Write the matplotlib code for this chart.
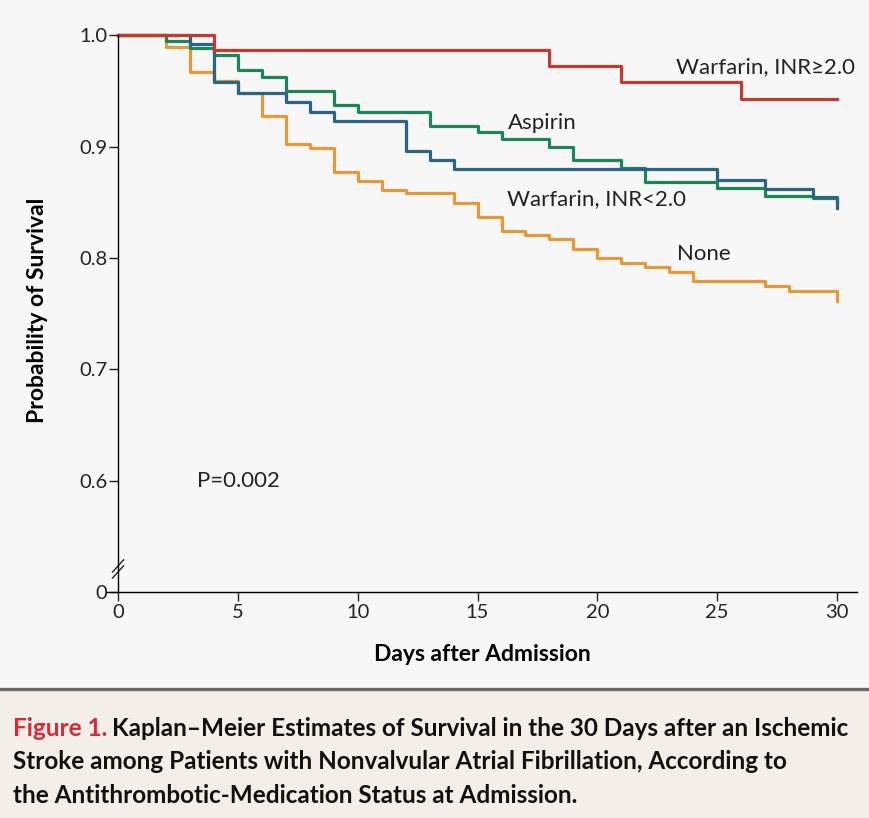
import matplotlib.pyplot as plt
from matplotlib.patches import Rectangle
from matplotlib.lines import Line2D

# --- данные ---
days_inr_high = [0, 4, 18, 21, 26, 30]
surv_inr_high = [1.0, 0.9865, 0.972, 0.9576, 0.9426, 0.9426]

days_aspirin = [0, 2, 3, 4, 5, 6, 7, 9, 10, 13, 15, 16, 18, 19, 21, 22, 25, 27, 29, 30]
surv_aspirin = [1.0, 0.9946, 0.988, 0.982, 0.9686, 0.9626, 0.950, 0.937, 0.931, 0.918,
                0.913, 0.907, 0.900, 0.888, 0.8804, 0.8684, 0.8625, 0.8556, 0.8535, 0.8500]

days_inr_low = [0, 3, 4, 5, 7, 8, 9, 12, 13, 14, 25, 27, 29, 30]
surv_inr_low = [1.0, 0.992, 0.958, 0.948, 0.940, 0.931, 0.923, 0.896, 0.888, 0.8795,
                0.870, 0.8616, 0.855, 0.8446]

days_none = [0, 2, 3, 4, 5, 6, 7, 8, 9, 10, 11, 12, 14, 15, 16, 17, 18, 19, 20, 21,
             22, 23, 24, 27, 28, 30]
surv_none = [1.0, 0.9895, 0.967, 0.959, 0.948, 0.927, 0.902, 0.899, 0.877, 0.869, 0.861,
             0.858, 0.8496, 0.8365, 0.8245, 0.8204, 0.8167, 0.808, 0.8003, 0.7958, 0.7917,
             0.7877, 0.7796, 0.7752, 0.7707, 0.761]

y_ticks = [0.5, 0.6, 0.7, 0.8, 0.9, 1.0]
y_ticklabels = ["0", "0.6", "0.7", "0.8", "0.9", "1.0"]
x_ticks = [0, 5, 10, 15, 20, 25, 30]

fonts = ['Lato', 'DejaVu Sans']
plt.rcParams['font.family'] = fonts

fig = plt.figure(figsize=(8.7, 8.18), dpi=100)
fig.patch.set_facecolor('#f7f7f7')

ax = fig.add_axes([0.123, 0.2757, 0.862, 0.6815])
ax.set_facecolor('#f7f7f7')

# --- кривые ---
lw = 2.3
ax.step(days_none, surv_none, where='post', color='#e29a3b', lw=lw, clip_on=False)
ax.step(days_aspirin, surv_aspirin, where='post', color='#1f8558', lw=lw, clip_on=False)
ax.step(days_inr_low, surv_inr_low, where='post', color='#2c6482', lw=lw, clip_on=False)
ax.step(days_inr_high, surv_inr_high, where='post', color='#bf3b30', lw=lw, clip_on=False)

ax.set_xlim(-0.46, 30.83)
ax.set_ylim(0.5, 1.0)

for s in ['top', 'right']:
    ax.spines[s].set_visible(False)
ax.spines['left'].set_position(('data', 0))
ax.spines['left'].set_linewidth(1.0)
ax.spines['bottom'].set_linewidth(1.0)

ax.set_xticks(x_ticks)
ax.set_yticks(y_ticks)
ax.set_yticklabels(y_ticklabels)
ax.tick_params(axis='both', direction='out', length=6.5, width=1.0, labelsize=14.5,
               colors='#222222')
ax.tick_params(axis='y', pad=1)
ax.tick_params(axis='x', pad=2)

# --- разрыв оси ---
for c in [0.5238, 0.5184]:
    ax.add_line(Line2D([-0.23, 0.23], [c - 0.0055, c + 0.0055], color='#222222',
                       lw=1.0, clip_on=False))

ax.set_xlabel("Days after Admission", fontsize=16.5, fontweight='bold', labelpad=16)
fig.text(0.043, 0.621, "Probability of Survival", rotation=90, fontsize=16.5,
         fontweight='bold', ha='center', va='center')

# --- подписи кривых ---
lab = dict(fontsize=16, color='#222222', va='center', ha='left')
ax.text(23.28, 0.9713, "Warfarin, INR\u22652.0", **lab)
ax.text(16.27, 0.921, "Aspirin", **lab)
ax.text(16.23, 0.853, "Warfarin, INR<2.0", **lab)
ax.text(23.32, 0.8036, "None", **lab)
ax.text(3.3, 0.6, "P=0.002", **lab)

# --- подпись рисунка ---
fig.patches.append(Rectangle((0, 0), 1, 0.157, transform=fig.transFigure,
                             facecolor='#f3eee8', edgecolor='none', zorder=0))
fig.add_artist(Line2D([0, 1], [0.158, 0.158], transform=fig.transFigure,
                      color='#6a6a6a', lw=2.4))

cap = dict(fontsize=17.5, fontweight='bold', va='center', ha='left')
t1 = fig.text(0.015, 0.110, "Figure 1.", color='#d42a3a', **cap)
fig.canvas.draw()
bb = t1.get_window_extent(fig.canvas.get_renderer())
x_next = bb.x1 / fig.bbox.width + 0.005
fig.text(x_next, 0.110, "Kaplan\u2013Meier Estimates of Survival in the 30 Days after an Ischemic",
         color='#111111', **cap)
fig.text(0.015, 0.069, "Stroke among Patients with Nonvalvular Atrial Fibrillation, According to",
         color='#111111', **cap)
fig.text(0.015, 0.027, "the Antithrombotic-Medication Status at Admission.",
         color='#111111', **cap)

fig.savefig("out.png", dpi=100, facecolor=fig.get_facecolor())
